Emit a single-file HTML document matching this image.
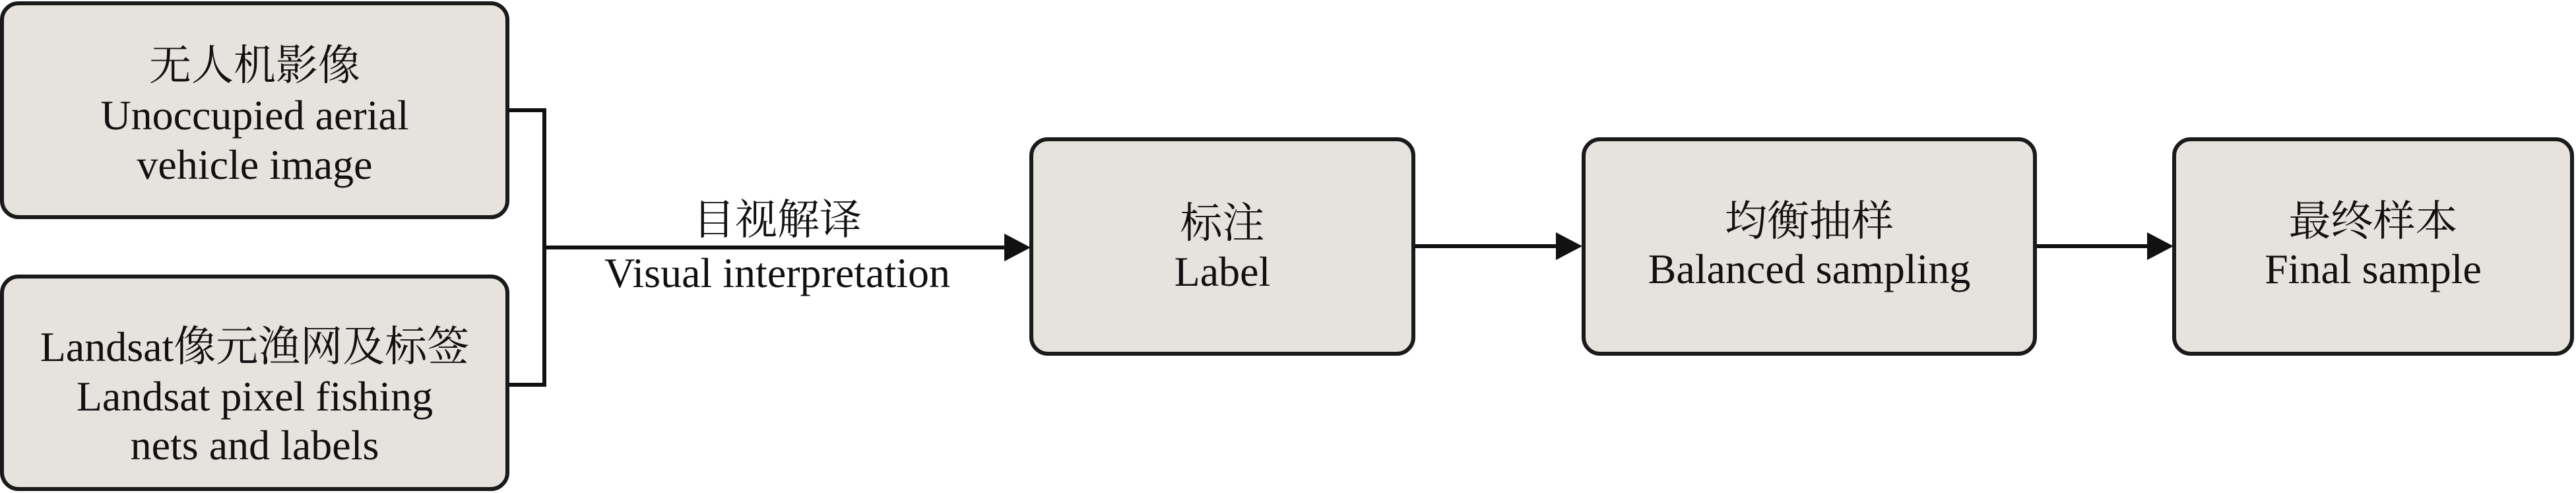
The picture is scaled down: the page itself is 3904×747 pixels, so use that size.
<!DOCTYPE html>
<html><head><meta charset="utf-8"><style>
body{margin:0;width:3904px;height:747px;background:#fff;position:relative;overflow:hidden;font-family:"Liberation Serif","Times New Roman",Times,"Noto Serif CJK SC","Noto Sans CJK SC",serif;color:#111;}
.box{position:absolute;box-sizing:border-box;border:6px solid #1a1a1a;border-radius:28px;background:#e6e2de;}
.t{position:absolute;left:0;right:0;text-align:center;font-size:64px;line-height:75px;white-space:nowrap;font-family:"Liberation Serif","Times New Roman",Times,"Noto Serif CJK SC",serif;}
.ln{position:absolute;background:#111;}
.ah{position:absolute;width:0;height:0;border-top:21px solid transparent;border-bottom:21px solid transparent;border-left:40px solid #111;}
</style></head><body>
<div class="box" style="left:0;top:2px;width:772px;height:330px"></div>
<div class="t" style="left:0;width:772px;top:62px">无人机影像</div>
<div class="t" style="left:0;width:772px;top:137px">Unoccupied aerial</div>
<div class="t" style="left:0;width:772px;top:212px">vehicle image</div>

<div class="box" style="left:0;top:416px;width:772px;height:328px"></div>
<div class="t" style="left:0;width:772px;top:488px">Landsat像元渔网及标签</div>
<div class="t" style="left:0;width:772px;top:563px">Landsat pixel fishing</div>
<div class="t" style="left:0;width:772px;top:637px">nets and labels</div>

<div class="ln" style="left:772px;top:164px;width:56px;height:6px"></div>
<div class="ln" style="left:772px;top:580px;width:56px;height:6px"></div>
<div class="ln" style="left:822px;top:164px;width:6px;height:422px"></div>
<div class="ln" style="left:822px;top:372px;width:710px;height:6px"></div>
<div class="ah" style="left:1522px;top:354px"></div>
<div class="t" style="left:878px;width:600px;top:296px">目视解译</div>
<div class="t" style="left:878px;width:600px;top:376px">Visual interpretation</div>

<div class="box" style="left:1560px;top:208px;width:585px;height:331px"></div>
<div class="t" style="left:1560px;width:585px;top:301px">标注</div>
<div class="t" style="left:1560px;width:585px;top:374px">Label</div>

<div class="ln" style="left:2145px;top:370px;width:220px;height:6px"></div>
<div class="ah" style="left:2358px;top:352px"></div>

<div class="box" style="left:2397px;top:208px;width:690px;height:331px"></div>
<div class="t" style="left:2397px;width:690px;top:298px">均衡抽样</div>
<div class="t" style="left:2397px;width:690px;top:370px">Balanced sampling</div>

<div class="ln" style="left:3087px;top:370px;width:170px;height:6px"></div>
<div class="ah" style="left:3254px;top:352px"></div>

<div class="box" style="left:3292px;top:208px;width:609px;height:331px"></div>
<div class="t" style="left:3292px;width:609px;top:298px">最终样本</div>
<div class="t" style="left:3292px;width:609px;top:370px">Final sample</div>
</body></html>
